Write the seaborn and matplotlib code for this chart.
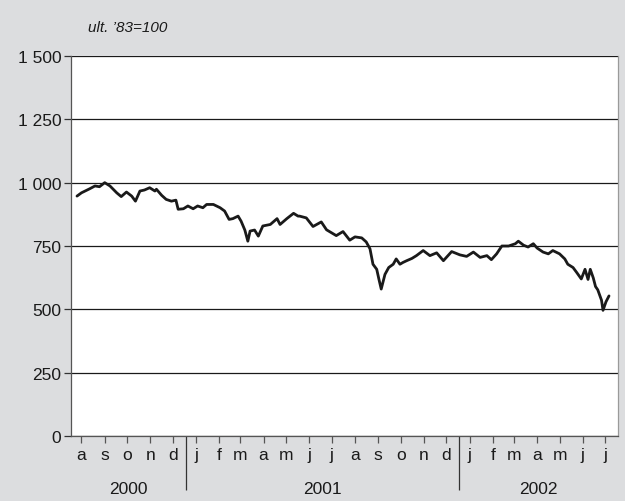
import matplotlib
matplotlib.use("Agg")
import matplotlib.pyplot as plt
import matplotlib.transforms as mtransforms
import pandas as pd
import seaborn as sns

# ---- data -------------------------------------------------------------
dates = [
    "2000-08-09", "2000-08-15", "2000-08-26", "2000-09-02", "2000-09-08", "2000-09-15",
    "2000-09-22", "2000-10-01", "2000-10-07", "2000-10-14", "2000-10-21", "2000-10-26",
    "2000-11-01", "2000-11-07", "2000-11-14", "2000-11-21", "2000-11-23", "2000-11-30",
    "2000-12-06", "2000-12-13", "2000-12-19", "2000-12-22", "2000-12-29", "2001-01-04",
    "2001-01-11", "2001-01-17", "2001-01-24", "2001-01-29", "2001-02-07", "2001-02-16",
    "2001-02-22", "2001-02-28", "2001-03-05", "2001-03-12", "2001-03-16", "2001-03-21",
    "2001-03-25", "2001-03-28", "2001-04-03", "2001-04-08", "2001-04-14", "2001-04-24",
    "2001-05-03", "2001-05-07", "2001-05-16", "2001-05-25", "2001-05-31", "2001-06-02",
    "2001-06-11", "2001-06-20", "2001-07-01", "2001-07-08", "2001-07-21", "2001-07-30",
    "2001-08-08", "2001-08-15", "2001-08-24", "2001-08-30", "2001-09-04", "2001-09-08",
    "2001-09-13", "2001-09-16", "2001-09-19", "2001-09-24", "2001-09-29", "2001-10-05",
    "2001-10-09", "2001-10-14", "2001-10-18", "2001-10-23", "2001-10-30", "2001-11-05",
    "2001-11-14", "2001-11-23", "2001-12-02", "2001-12-11", "2001-12-22", "2002-01-02",
    "2002-01-11", "2002-01-20", "2002-01-29", "2002-02-07", "2002-02-13", "2002-02-20",
    "2002-02-27", "2002-03-08", "2002-03-17", "2002-03-21", "2002-03-28", "2002-04-03",
    "2002-04-10", "2002-04-15", "2002-04-23", "2002-04-30", "2002-05-06", "2002-05-15",
    "2002-05-22", "2002-05-26", "2002-06-02", "2002-06-07", "2002-06-13", "2002-06-18",
    "2002-06-22", "2002-06-25", "2002-06-29", "2002-07-02", "2002-07-05", "2002-07-10",
    "2002-07-12", "2002-07-16", "2002-07-20",
]
index_values = [
    947, 960, 976, 987, 984, 1000,
    987, 960, 945, 963, 947, 927,
    967, 971, 980, 967, 974, 950,
    934, 927, 931, 895, 897, 908,
    897, 908, 901, 914, 914, 901,
    888, 855, 858, 868, 848, 813,
    769, 809, 813, 789, 829, 835,
    858, 835, 858, 879, 868, 868,
    861, 827, 845, 814, 791, 807,
    773, 786, 782, 766, 739, 678,
    658, 618, 580, 638, 665, 678,
    699, 678, 685, 692, 701, 712,
    732, 712, 723, 692, 728, 715,
    709, 726, 705, 712, 696, 719,
    750, 750, 759, 769, 753, 746,
    759, 742, 726, 719, 732, 719,
    699, 678, 665, 645, 620, 658,
    618, 658, 624, 590, 577, 536,
    496, 530, 553,
]
month_labels = ["a", "s", "o", "n", "d",
                "j", "f", "m", "a", "m", "j", "j", "a", "s", "o", "n", "d",
                "j", "f", "m", "a", "m", "j", "j"]
year_labels = ["2000", "2001", "2002"]
y_ticks = [0, 250, 500, 750, 1000, 1250, 1500]
y_tick_labels = ["0", "250", "500", "750", "1 000", "1 250", "1 500"]
unit_label = "ult. \u201983=100"

df = pd.DataFrame({"date": pd.to_datetime(dates), "value": index_values})

# ---- style ------------------------------------------------------------
BG = "#dcdddf"
sns.set_theme(style="white")
plt.rcParams["font.family"] = ["Liberation Sans", "DejaVu Sans"]

fig = plt.figure(figsize=(6.25, 5.02), dpi=100, facecolor=BG)
ax = fig.add_axes([71 / 625, 1 - 437 / 502, (618 - 71) / 625, (437 - 57) / 502])
ax.set_facecolor("white")

for yv in y_ticks:
    ax.axhline(yv, color="#1a1a1a", lw=0.9, zorder=1)

sns.lineplot(data=df, x="date", y="value", ax=ax, color="#1a1a1a",
             linewidth=2.0, zorder=3)

x0, x1 = pd.Timestamp("2000-08-01"), pd.Timestamp("2002-08-01")
ax.set_xlim(x0, x1)
ax.set_ylim(0, 1500)

# y axis
ax.set_yticks(y_ticks)
ax.set_yticklabels(y_tick_labels)
ax.tick_params(axis="y", direction="out", length=5, width=0.9, color="#333333",
               labelsize=12.5, labelcolor="#1a1a1a", pad=2, left=True)

# x axis: month ticks mid-month
month_mid = pd.date_range("2000-08-01", periods=len(month_labels), freq="MS") + pd.Timedelta(days=14)
ax.set_xticks(month_mid)
ax.set_xticklabels(month_labels)
ax.tick_params(axis="x", which="major", direction="out", length=5, width=0.9,
               color="#555555", labelsize=12.5, labelcolor="#1a1a1a", pad=3, bottom=True)

# year dividers as long minor ticks
year_starts = pd.to_datetime(["2001-01-01", "2002-01-01"])
ax.set_xticks(year_starts, minor=True)
ax.tick_params(axis="x", which="minor", direction="out", length=39, width=0.9,
               color="#333333", bottom=True)

bounds = [x0] + list(year_starts) + [x1]
trans = mtransforms.blended_transform_factory(ax.transData, ax.transAxes)
for lab, a, b in zip(year_labels, bounds[:-1], bounds[1:]):
    mid = a + (b - a) / 2
    ax.text(mid, -0.138, lab, transform=trans, ha="center", va="center",
            fontsize=12.5, color="#1a1a1a")

ax.set_xlabel("")
ax.set_ylabel("")

ax.spines["top"].set_visible(False)
ax.spines["left"].set_color("#555555")
ax.spines["left"].set_linewidth(0.9)
ax.spines["bottom"].set_color("#555555")
ax.spines["bottom"].set_linewidth(0.9)
ax.spines["right"].set_color("#9a9a9a")
ax.spines["right"].set_linewidth(0.9)

fig.text(88 / 625, 1 - 28 / 502, unit_label, ha="left", va="center",
         fontsize=11, fontstyle="italic", color="#1a1a1a")

fig.savefig("out.png", dpi=100, facecolor=BG)
